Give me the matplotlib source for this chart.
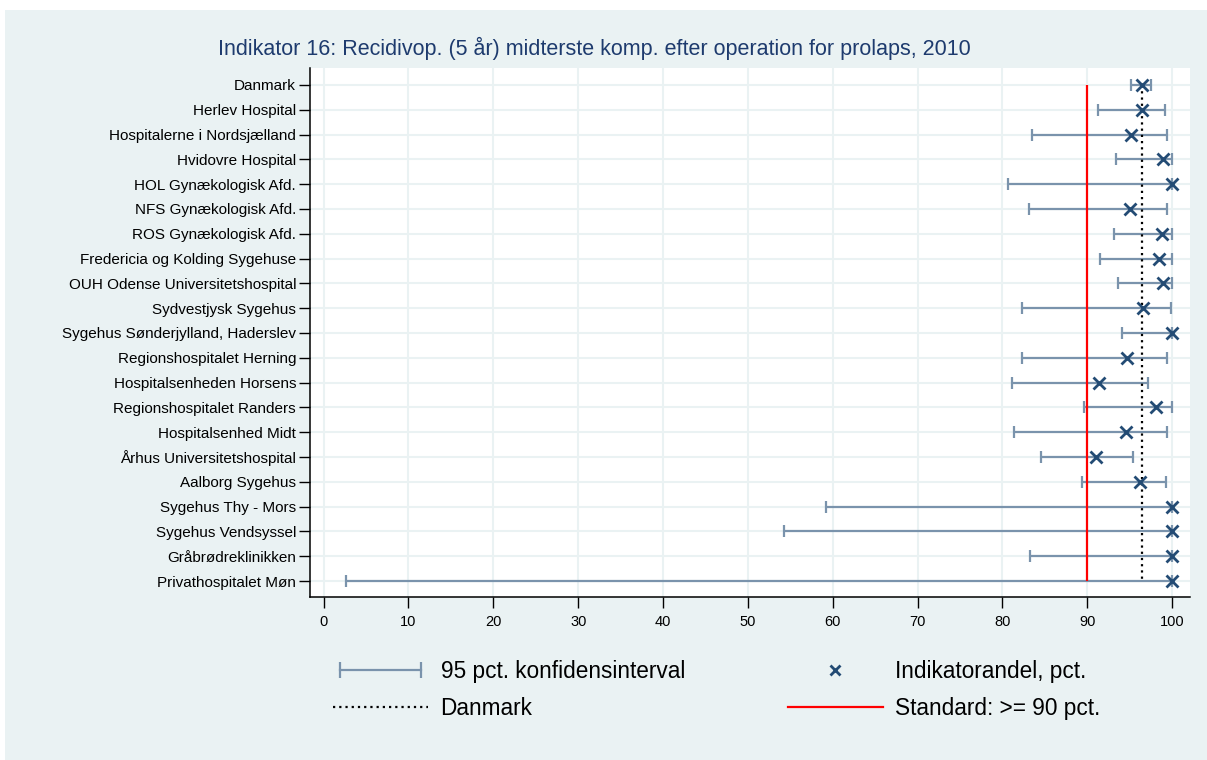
import matplotlib
matplotlib.use("Agg")
import matplotlib.pyplot as plt
from matplotlib.lines import Line2D
from matplotlib.legend_handler import HandlerLine2D
from matplotlib.patches import Rectangle

# Données
enheder = [
    "Danmark",
    "Herlev Hospital",
    "Hospitalerne i Nordsjælland",
    "Hvidovre Hospital",
    "HOL Gynækologisk Afd.",
    "NFS Gynækologisk Afd.",
    "ROS Gynækologisk Afd.",
    "Fredericia og Kolding Sygehuse",
    "OUH Odense Universitetshospital",
    "Sydvestjysk Sygehus",
    "Sygehus Sønderjylland, Haderslev",
    "Regionshospitalet Herning",
    "Hospitalsenheden Horsens",
    "Regionshospitalet Randers",
    "Hospitalsenhed Midt",
    "Århus Universitetshospital",
    "Aalborg Sygehus",
    "Sygehus Thy - Mors",
    "Sygehus Vendsyssel",
    "Gråbrødreklinikken",
    "Privathospitalet Møn",
]
andel = [96.5, 96.5, 95.2, 98.9, 100, 95.0, 98.8, 98.4, 98.9, 96.6, 100,
         94.7, 91.4, 98.1, 94.5, 91.0, 96.2, 100, 100, 100, 100]
ci_lav = [95.1, 91.3, 83.5, 93.4, 80.6, 83.1, 93.2, 91.5, 93.6, 82.3, 94.1,
          82.3, 81.1, 89.6, 81.4, 84.5, 89.4, 59.2, 54.2, 83.2, 2.6]
ci_hoj = [97.5, 99.1, 99.4, 100, 100, 99.4, 100, 100, 100, 99.9, 100,
          99.4, 97.2, 100, 99.4, 95.4, 99.3, 100, 100, 100, 100]
standard = 90
danmark = andel[0]
xticks = list(range(0, 101, 10))

panel = "#EAF2F3"
ci_farve = "#7A93AC"
mark_farve = "#234B74"
titel_farve = "#1E3B6E"

plt.rcParams["font.family"] = ["Liberation Sans", "DejaVu Sans"]

fig = plt.figure(figsize=(12.07, 7.6), dpi=100)
fig.patch.set_facecolor("white")
fig.add_artist(Rectangle((5 / 1207, 0), 1, 1 - 10 / 760, transform=fig.transFigure,
                         facecolor=panel, edgecolor="none", zorder=-10))

ax = fig.add_axes([310 / 1207, 1 - 597 / 760, 880 / 1207, 529 / 760])
ax.set_facecolor("white")

y = list(range(len(enheder)))
xerr = [[a - l for a, l in zip(andel, ci_lav)], [h - a for a, h in zip(andel, ci_hoj)]]
ci = ax.errorbar(andel, y, xerr=xerr, fmt="none", ecolor=ci_farve, elinewidth=1.6,
                 capsize=4.5, capthick=1.6, zorder=2)
std = ax.vlines(standard, 0, len(enheder) - 1, color="#FF0000", lw=1.6, zorder=3)
dk = ax.vlines(danmark, 0, len(enheder) - 1, color="black", lw=1.6,
               linestyles=(0, (1, 1.8)), zorder=3)
ax.plot(andel, y, "x", color=mark_farve, ms=8, mew=2, zorder=4)

ax.set_xlim(-1.6, 102.1)
ax.set_ylim(len(enheder) - 1 + 0.645, -0.685)
ax.set_xticks(xticks)
ax.set_yticks(y)
ax.set_yticklabels(enheder, fontsize=11)
ax.tick_params(axis="x", labelsize=10.5, length=8, width=1, pad=5)
ax.tick_params(axis="y", length=8, width=1, pad=2)
ax.grid(True, color=panel, lw=1.5)
ax.set_axisbelow(True)
for s in ["top", "right"]:
    ax.spines[s].set_visible(False)
for s in ["left", "bottom"]:
    ax.spines[s].set_linewidth(1.1)

fig.text(594 / 1207, 1 - 48 / 760,
         "Indikator 16: Recidivop. (5 år) midterste komp. efter operation for prolaps, 2010",
         ha="center", va="center", fontsize=15.5, color=titel_farve)

# Légende
h_ci = Line2D([], [], color=ci_farve, lw=1.6, marker="|", ms=11, mew=1.6)
h_mark = Line2D([], [], ls="none", marker="x", color=mark_farve, ms=7.5, mew=2)
h_dk = Line2D([], [], color="black", lw=1.6, ls=(0, (1, 1.8)))
h_std = Line2D([], [], color="#FF0000", lw=1.6)
fig.legend([h_ci, h_dk, h_mark, h_std],
           ["95 pct. konfidensinterval", "Danmark", "Indikatorandel, pct.", "Standard: >= 90 pct."],
           handler_map={h_ci: HandlerLine2D(numpoints=2)},
           ncol=2, loc="upper left", bbox_to_anchor=(333 / 1207, 1 - 660 / 760),
           frameon=False, fontsize=16.3, handlelength=4.2, handletextpad=0.55,
           columnspacing=4.55, labelspacing=0.6, borderpad=0, borderaxespad=0)

plt.savefig("out.png", dpi=100, facecolor=fig.get_facecolor())
